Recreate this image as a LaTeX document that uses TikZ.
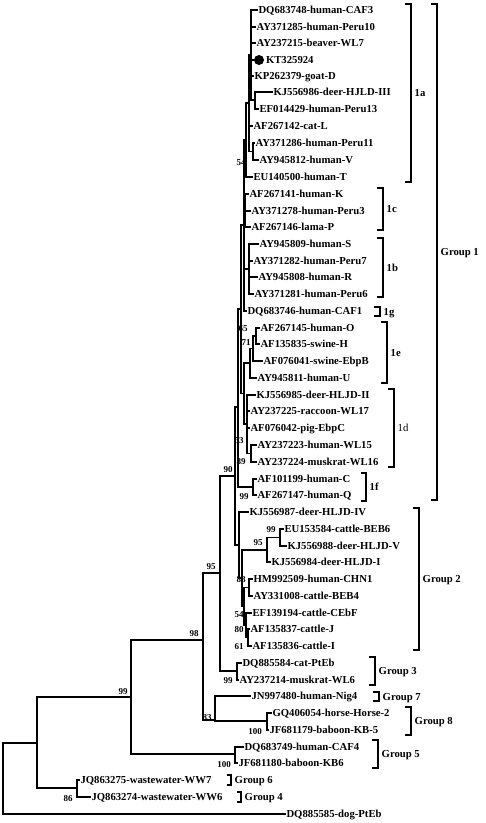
\documentclass[tikz,border=0pt]{standalone}
\usepackage{fontspec}
\setmainfont{Liberation Serif}
\newcommand\leaffont{\fontsize{10.7pt}{12pt}\selectfont\bfseries}
\newcommand\leafreg{\fontsize{10.7pt}{12pt}\selectfont}
\newcommand\bsfont{\fontsize{9pt}{10pt}\selectfont\bfseries}
\newcommand\lv[4]{\coordinate (#1) at (#2,#3); \node[lbl] (#1t) at (#1) {#4};}
\newcommand\vb[3]{\draw[br] (#1 |- #2) -- (#1 |- #3);}
\newcommand\clade[2]{\foreach \ch in {#2} {\draw[br] (#1 |- \ch) -- (\ch);}}
\newcommand\bsl[4]{\node[bs] (#1) at (#2,#3) {#4};}
\newcommand\brkt[7]{\draw[brk] (#1,#3) -- (#2,#3) -- (#2,#4) -- (#1,#4);
  \node[grp,#7] (#5) at (#2+3.5,{(#3+#4)/2}) {#6};}
\begin{document}
\begin{tikzpicture}[x=1pt,y=-1pt,
  br/.style={line width=1.2pt, line cap=rect, black},
  brk/.style={line width=1.3pt, black},
  lbl/.style={anchor=west, inner xsep=1.3pt, inner ysep=0pt, font=\leaffont, text height=7pt, text depth=0pt},
  bs/.style={inner sep=0pt, font=\bsfont, text height=6pt, text depth=0pt},
  grp/.style={anchor=west, inner sep=0pt, font=\leaffont, text height=7pt, text depth=0pt}]
\useasboundingbox[fill=white] (0,0) rectangle (486,823);

% leaves
\lv{l1}{257}{10}{DQ683748-human-CAF3}
\lv{l2}{255}{27}{AY371285-human-Peru10}
\lv{l3}{255}{43}{AY237215-beaver-WL7}
\coordinate (l4) at (254,60);
\node[circle, fill=black, inner sep=0pt, minimum size=10pt] (dot) at (259,60) {};
\node[lbl] (l4t) at (264.5,60) {KT325924};
\lv{l5}{253}{76}{KP262379-goat-D}
\lv{l6}{272}{92}{KJ556986-deer-HJLD-III}
\lv{l7}{258}{109}{EF014429-human-Peru13}
\lv{l8}{252}{126}{AF267142-cat-L}
\lv{l9}{254}{143}{AY371286-human-Peru11}
\lv{l10}{258}{160}{AY945812-human-V}
\lv{l11}{252}{177}{EU140500-human-T}
\lv{l12}{248}{194}{AF267141-human-K}
\lv{l13}{250}{211}{AY371278-human-Peru3}
\lv{l14}{250}{227}{AF267146-lama-P}
\lv{l15}{258}{244}{AY945809-human-S}
\lv{l16}{252}{261}{AY371282-human-Peru7}
\lv{l17}{257}{277}{AY945808-human-R}
\lv{l18}{253}{294}{AY371281-human-Peru6}
\lv{l19}{246}{311}{DQ683746-human-CAF1}
\lv{l20}{259}{328}{AF267145-human-O}
\lv{l21}{259}{344}{AF135835-swine-H}
\lv{l22}{262}{361}{AF076041-swine-EbpB}
\lv{l23}{256}{378}{AY945811-human-U}
\lv{l24}{255}{395}{KJ556985-deer-HLJD-II}
\lv{l25}{249}{411}{AY237225-raccoon-WL17}
\lv{l26}{249}{428}{AF076042-pig-EbpC}
\lv{l27}{256}{445}{AY237223-human-WL15}
\lv{l28}{256}{462}{AY237224-muskrat-WL16}
\lv{l29}{256}{479}{AF101199-human-C}
\lv{l30}{256}{495}{AF267147-human-Q}
\lv{l31}{248}{512}{KJ556987-deer-HLJD-IV}
\lv{l32}{283}{529}{EU153584-cattle-BEB6}
\lv{l33}{286}{546}{KJ556988-deer-HLJD-V}
\lv{l34}{270}{562}{KJ556984-deer-HLJD-I}
\lv{l35}{252}{579}{HM992509-human-CHN1}
\lv{l36}{252}{596}{AY331008-cattle-BEB4}
\lv{l37}{251}{613}{EF139194-cattle-CEbF}
\lv{l38}{249}{629}{AF135837-cattle-J}
\lv{l39}{251}{646}{AF135836-cattle-I}
\lv{l40}{241}{663}{DQ885584-cat-PtEb}
\lv{l41}{238}{680}{AY237214-muskrat-WL6}
\lv{l42}{250}{696}{JN997480-human-Nig4}
\lv{l43}{271}{713}{GQ406054-horse-Horse-2}
\lv{l44}{268}{730}{JF681179-baboon-KB-5}
\lv{l45}{243}{747}{DQ683749-human-CAF4}
\lv{l46}{237}{763}{JF681180-baboon-KB6}
\lv{l47}{79}{780}{JQ863275-wastewater-WW7}
\lv{l48}{90}{797}{JQ863274-wastewater-WW6}
\lv{l49}{285}{814}{DQ885585-dog-PtEb}

% internal nodes
\coordinate (r) at (3,778);
\coordinate (c1) at (37,743);
\coordinate (ww) at (77,788);
\coordinate (c2) at (131,697);
\coordinate (g5) at (235,754);
\coordinate (c3) at (203,640);
\coordinate (c4) at (215,720);
\coordinate (g8) at (267,721);
\coordinate (n95) at (220,573);
\coordinate (g3) at (237,671);
\coordinate (n90) at (235,476);
\coordinate (g1) at (238,407);
\coordinate (g2) at (239,545);
\coordinate (g2a) at (242,578);
\coordinate (n95b) at (267,550);
\coordinate (n99) at (280,537.5);
\coordinate (g2b) at (244,606);
\coordinate (n88) at (249,587.5);
\coordinate (g2c) at (246,625);
\coordinate (g2d) at (248,637.5);
\coordinate (f) at (253,487);
\coordinate (n65) at (241,309);
\coordinate (u) at (244,225);
\coordinate (a0) at (246,140);
\coordinate (a2) at (249,103);
\coordinate (a1) at (251,55);
\coordinate (akj) at (255,100);
\coordinate (apv) at (253,151.5);
\coordinate (c0) at (245,210.5);
\coordinate (b0) at (249,269);
\coordinate (nlow) at (244,393.5);
\coordinate (e0) at (250,363);
\coordinate (e1) at (253,348.5);
\coordinate (e2) at (256,336);
\coordinate (d) at (247,424);
\coordinate (d89) at (251,453.5);

% branches
\vb{r}{c1}{l49} \clade{r}{c1,l49}
\vb{c1}{c2}{ww} \clade{c1}{c2,ww}
\vb{ww}{l47}{l48} \clade{ww}{l47,l48}
\vb{c2}{c3}{g5} \clade{c2}{c3,g5}
\vb{g5}{l45}{l46} \clade{g5}{l45,l46}
\vb{c3}{n95}{c4} \clade{c3}{n95,c4}
\vb{c4}{l42}{g8} \clade{c4}{l42,g8}
\vb{g8}{l43}{l44} \clade{g8}{l43,l44}
\vb{n95}{n90}{g3} \clade{n95}{n90,g3}
\vb{g3}{l40}{l41} \clade{g3}{l40,l41}
\vb{n90}{g1}{g2} \clade{n90}{g1,g2}
\vb{g2}{l31}{g2a} \clade{g2}{l31,g2a}
\vb{g2a}{n95b}{g2b} \clade{g2a}{n95b,g2b}
\vb{n95b}{n99}{l34} \clade{n95b}{n99,l34}
\vb{n99}{l32}{l33} \clade{n99}{l32,l33}
\vb{g2b}{n88}{g2c} \clade{g2b}{n88,g2c}
\vb{n88}{l35}{l36} \clade{n88}{l35,l36}
\vb{g2c}{l37}{g2d} \clade{g2c}{l37,g2d}
\vb{g2d}{l38}{l39} \clade{g2d}{l38,l39}
\vb{g1}{n65}{f} \clade{g1}{n65,f}
\vb{f}{l29}{l30} \clade{f}{l29,l30}
\vb{n65}{u}{nlow} \clade{n65}{u,nlow}
\vb{u}{a0}{l19} \clade{u}{a0,c0,b0,l19}
\vb{a0}{a2}{l11} \clade{a0}{a2,l11}
\vb{a2}{a1}{apv} \clade{a2}{a1,l8,apv}
\vb{a1}{l1}{akj} \clade{a1}{l1,l2,l3,l4,l5,akj}
\vb{akj}{l6}{l7} \clade{akj}{l6,l7}
\vb{apv}{l9}{l10} \clade{apv}{l9,l10}
\vb{c0}{l12}{l14} \clade{c0}{l12,l13,l14}
\vb{b0}{l15}{l18} \clade{b0}{l15,l16,l17,l18}
\vb{nlow}{e0}{d} \clade{nlow}{e0,d}
\vb{e0}{e1}{l23} \clade{e0}{e1,l23}
\vb{e1}{e2}{l22} \clade{e1}{e2,l22}
\vb{e2}{l20}{l21} \clade{e2}{l20,l21}
\vb{d}{l24}{d89} \clade{d}{l24,l25,l26,d89}
\vb{d89}{l27}{l28} \clade{d89}{l27,l28}

% bootstrap values
\bsl{b1}{241}{162}{54}
\bsl{b2}{243}{328}{65}
\bsl{b3}{246}{342}{71}
\bsl{b4}{239}{440}{53}
\bsl{b5}{241}{461}{89}
\bsl{b6}{228}{469}{90}
\bsl{b7}{244}{496}{99}
\bsl{b8}{271}{529}{99}
\bsl{b9}{258}{542}{95}
\bsl{b10}{241}{579}{88}
\bsl{b11}{239}{614}{54}
\bsl{b12}{239}{629}{80}
\bsl{b13}{239}{646}{61}
\bsl{b14}{211}{566}{95}
\bsl{b15}{194}{633}{98}
\bsl{b16}{123}{691}{99}
\bsl{b17}{207}{717}{83}
\bsl{b18}{255}{731}{100}
\bsl{b19}{228}{680}{99}
\bsl{b20}{224}{764}{100}
\bsl{b21}{68}{798}{86}

% group brackets
\brkt{405}{411}{4}{182}{k1a}{1a}{}
\brkt{431}{437}{4}{500}{kg1}{Group 1}{}
\brkt{377}{383}{188}{230}{k1c}{1c}{}
\brkt{377}{383}{238}{297}{k1b}{1b}{}
\brkt{374}{380}{307}{316}{k1g}{1g}{}
\brkt{381}{387}{322}{383}{k1e}{1e}{}
\brkt{388}{394}{389}{467}{k1d}{1d}{font=\leafreg}
\brkt{361}{366}{473}{501}{k1f}{1f}{}
\brkt{413}{419}{508}{650}{kg2}{Group 2}{}
\brkt{369}{375}{657}{685}{kg3}{Group 3}{}
\brkt{373}{379}{692}{701}{kg7}{Group 7}{}
\brkt{405}{411}{707}{735}{kg8}{Group 8}{}
\brkt{372}{378}{740}{768}{kg5}{Group 5}{}
\brkt{227}{231}{775}{785}{kg6}{Group 6}{}
\brkt{237}{241}{792}{802}{kg4}{Group 4}{}
\end{tikzpicture}
\end{document}
